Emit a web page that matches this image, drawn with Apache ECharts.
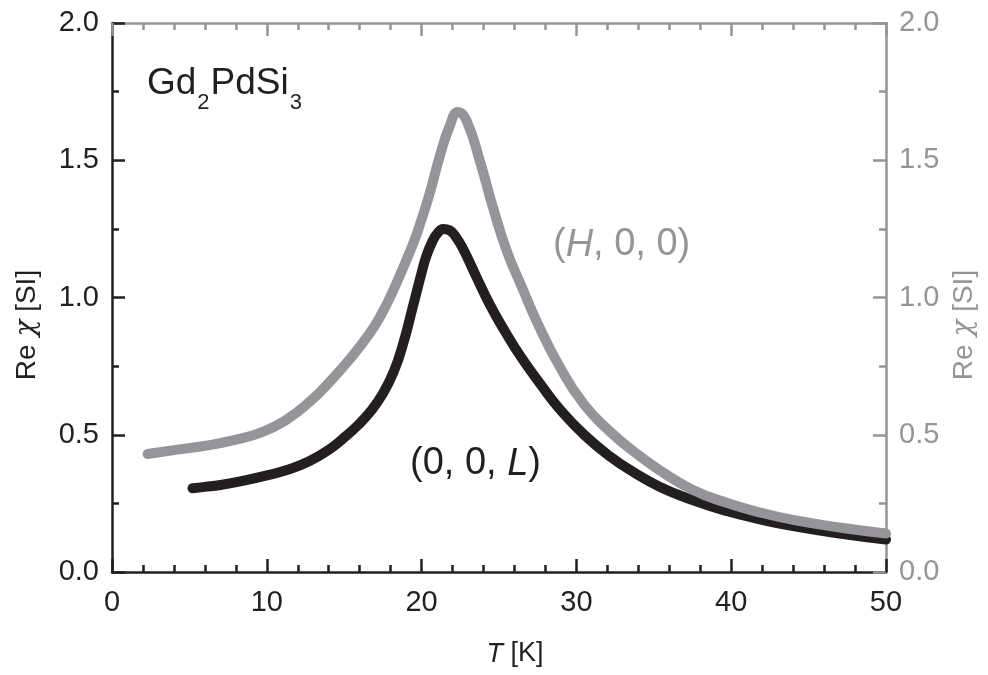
<!DOCTYPE html>
<html>
<head>
<meta charset="utf-8">
<script src="https://cdn.jsdelivr.net/npm/echarts@6/dist/echarts.min.js"></script>
<style>
html,body{margin:0;padding:0;background:#fff;}
#chart{width:988px;height:675px;}
</style>
</head>
<body>
<div id="chart"></div>
<script>
// (0, 0, L) series: temperature [K] and Re chi [SI]
var tL = [5.2, 6, 7, 8.5, 10, 11.5, 12.8, 14, 14.9, 15.8, 16.7, 17.5, 18.2, 18.8, 19.45, 20.0, 20.3, 20.7, 21.0, 21.4, 21.8, 22.2, 22.7, 23.5, 24.4, 25.4, 26.4, 27.8, 28.9, 30.5, 32.2, 33.8, 35.4, 37.5, 39.7, 42, 44, 47, 50];
var chiL = [0.305, 0.310, 0.317, 0.333, 0.352, 0.375, 0.405, 0.445, 0.485, 0.53, 0.585, 0.65, 0.73, 0.83, 0.97, 1.09, 1.15, 1.205, 1.232, 1.25, 1.245, 1.222, 1.175, 1.08, 0.975, 0.875, 0.785, 0.675, 0.595, 0.50, 0.42, 0.36, 0.31, 0.262, 0.222, 0.19, 0.167, 0.14, 0.118];
// (H, 0, 0) series
var tH = [2.3, 4, 6.3, 8, 9.6, 11.2, 12.8, 14.1, 15.5, 16.5, 17.3, 18.2, 19.45, 20.0, 20.5, 21.2, 21.8, 22.35, 22.9, 23.8, 24.6, 25.5, 26.5, 27.5, 28.9, 30.5, 32.2, 33.8, 35.4, 37.5, 39.7, 42, 44, 47, 50];
var chiH = [0.43, 0.444, 0.462, 0.482, 0.508, 0.552, 0.622, 0.695, 0.785, 0.858, 0.928, 1.03, 1.195, 1.285, 1.375, 1.52, 1.622, 1.676, 1.645, 1.49, 1.33, 1.17, 1.035, 0.905, 0.75, 0.61, 0.51, 0.435, 0.37, 0.30, 0.252, 0.215, 0.19, 0.162, 0.14];
// axis ticks
var xTicks = [0, 10, 20, 30, 40, 50];
var yTicks = [0.0, 0.5, 1.0, 1.5, 2.0];

var BLACK = '#231f20', GREY = '#939598';
var FONT = 'Liberation Sans, Arial, Helvetica, sans-serif';

function pairs(xs, ys) { return xs.map(function (x, i) { return [x, ys[i]]; }); }

var chart = echarts.init(document.getElementById('chart'), null, {renderer: 'canvas'});

function xAx(pos, color, showLabel) {
  return {
    type: 'value', position: pos, min: xTicks[0], max: xTicks[xTicks.length - 1], interval: 10,
    axisLine: {show: true, onZero: false, lineStyle: {color: color, width: 2.5}},
    axisTick: {show: true, inside: true, length: 13, lineStyle: {color: color, width: 2.5}},
    minorTick: {show: true, splitNumber: 5, length: 7, lineStyle: {color: color, width: 2.5}},
    axisLabel: {show: showLabel, color: BLACK, fontSize: 29, fontFamily: FONT, margin: 16,
      formatter: function (v) { return String(v); }},
    splitLine: {show: false}, minorSplitLine: {show: false}
  };
}
function yAx(pos, color) {
  return {
    type: 'value', position: pos, min: yTicks[0], max: yTicks[yTicks.length - 1], interval: 0.5,
    axisLine: {show: true, onZero: false, lineStyle: {color: color, width: 2.5}},
    axisTick: {show: true, inside: true, length: 13, lineStyle: {color: color, width: 2.5}},
    minorTick: {show: true, splitNumber: 2, length: 7, lineStyle: {color: color, width: 2.5}},
    axisLabel: {show: true, color: color, fontSize: 29, fontFamily: FONT, margin: 13,
      formatter: function (v) { return v.toFixed(1); }},
    splitLine: {show: false}, minorSplitLine: {show: false}
  };
}

var option = {
  backgroundColor: '#fff',
  animation: false,
  grid: {left: 112, right: 102, top: 23, bottom: 103, containLabel: false},
  xAxis: [xAx('bottom', BLACK, true), xAx('top', GREY, false)],
  yAxis: [yAx('left', BLACK), yAx('right', GREY)],
  series: [
    {
      name: '(0, 0, L)', type: 'line', xAxisIndex: 0, yAxisIndex: 0,
      data: pairs(tL, chiL), smooth: 0.5, showSymbol: false, symbol: 'none',
      lineStyle: {color: BLACK, width: 10, cap: 'round', join: 'round'}, z: 3
    },
    {
      name: '(H, 0, 0)', type: 'line', xAxisIndex: 0, yAxisIndex: 1,
      data: pairs(tH, chiH), smooth: 0.5, showSymbol: false, symbol: 'none',
      lineStyle: {color: GREY, width: 10, cap: 'round', join: 'round'}, z: 4
    }
  ],
  graphic: [
    {type: 'text', left: 147, top: 65, z: 10, style: {
      text: '{n|Gd}{s|2}{n|PdSi}{s|3}',
      rich: {n: {fontSize: 37, fontFamily: FONT, fill: BLACK, verticalAlign: 'bottom', lineHeight: 43},
             s: {fontSize: 22, fontFamily: FONT, fill: BLACK, verticalAlign: 'bottom', lineHeight: 43, padding: [0, 1, -12, 1]}}
    }},
    {type: 'text', left: 553, top: 226, z: 10, style: {
      text: '{n|(}{i|H}{n|, 0, 0)}',
      rich: {n: {fontSize: 38, fontFamily: FONT, fill: GREY}, i: {fontSize: 38, fontFamily: FONT, fontStyle: 'italic', fill: GREY}}
    }},
    {type: 'text', left: 410, top: 445, z: 10, style: {
      text: '{n|(0, 0, }{i|L}{n|)}',
      rich: {n: {fontSize: 38, fontFamily: FONT, fill: BLACK}, i: {fontSize: 38, fontFamily: FONT, fontStyle: 'italic', fill: BLACK}}
    }},
    {type: 'text', x: 515, y: 654, z: 10, style: {
      text: '{i|T}{n| [K]}', align: 'center', verticalAlign: 'middle',
      rich: {n: {fontSize: 27, fontFamily: FONT, fill: BLACK}, i: {fontSize: 27, fontFamily: FONT, fontStyle: 'italic', fill: BLACK}}
    }},
    {type: 'text', x: 27, y: 325, rotation: Math.PI / 2, z: 10, style: {
      text: '{n|Re }{i|χ}{n| [SI]}', align: 'center', verticalAlign: 'middle',
      rich: {n: {fontSize: 28, fontFamily: FONT, fill: BLACK}, i: {fontSize: 28, fontFamily: 'DejaVu Serif, serif', fontStyle: 'italic', fill: BLACK}}
    }},
    {type: 'text', x: 964, y: 325, rotation: Math.PI / 2, z: 10, style: {
      text: '{n|Re }{i|χ}{n| [SI]}', align: 'center', verticalAlign: 'middle',
      rich: {n: {fontSize: 28, fontFamily: FONT, fill: GREY}, i: {fontSize: 28, fontFamily: 'DejaVu Serif, serif', fontStyle: 'italic', fill: GREY}}
    }}
  ]
};
chart.setOption(option);
</script>
</body>
</html>
